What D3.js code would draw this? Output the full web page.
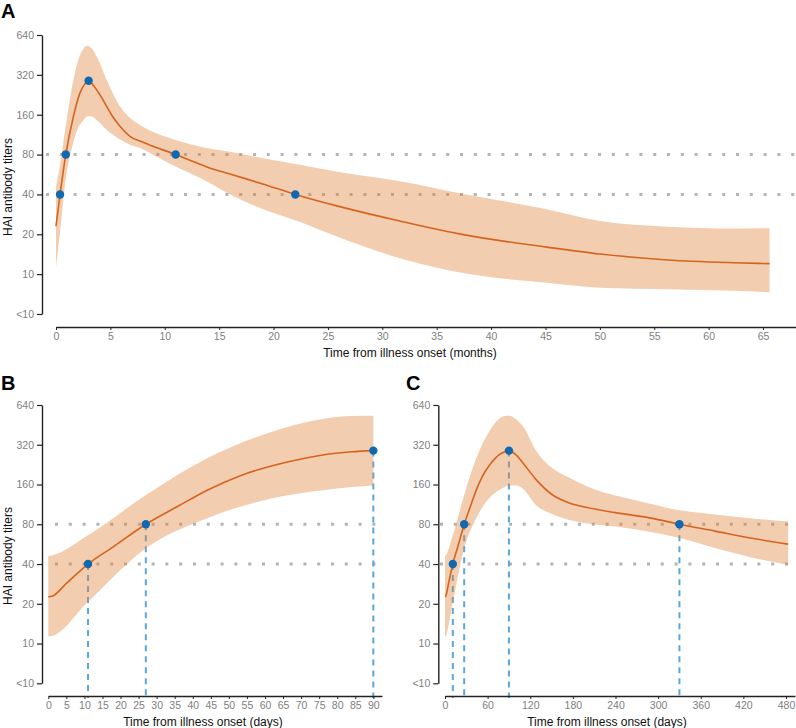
<!DOCTYPE html>
<html><head><meta charset="utf-8">
<script src="https://cdn.jsdelivr.net/npm/d3@7"></script>
<style>
body{margin:0;background:#fff;}
svg{display:block;font-family:"Liberation Sans",Arial,Helvetica,sans-serif;}
</style>
</head><body>
<svg id="chart" width="796" height="728"></svg>
<script>
// ---------- shared ----------
const yTickValues = [5, 10, 20, 40, 80, 160, 320, 640];
const yTickLabels = ["<10", "10", "20", "40", "80", "160", "320", "640"];
const refLevels = [40, 80];

// ---------- Panel A (months) ----------
const monthsA = [0, 0.37, 0.9, 1.6, 2.2, 2.7, 3.0, 3.5, 4.2, 4.66, 5.2, 5.88, 6.8, 8.0, 11, 14, 16, 19, 22, 26, 31.6, 37.7, 45.1, 50, 56.2, 62.3, 65.6];
const titerA  = [23, 40, 80, 155, 233, 277, 289, 262, 215, 185, 155, 131, 110, 99, 80, 64, 57, 48, 40, 32.5, 25.2, 19.7, 16, 14.2, 12.8, 12.2, 12.0];
const bandMonthsA = [0, 0.37, 0.9, 1.45, 2.0, 2.5, 2.9, 3.3, 3.74, 4.66, 5.88, 6.8, 7.7, 9, 11, 13.5, 16, 19, 22, 26, 31.6, 37.7, 45.1, 50, 56.2, 62.3, 65.6];
const upperA = [46, 66, 133, 253, 402, 502, 530, 505, 440, 293, 185, 151, 134, 118, 103, 91, 84, 75, 68, 59, 50.4, 40, 30.9, 25.2, 22.8, 22.1, 22.2];
const lowerA = [11.3, 20.7, 52.7, 89, 126, 145, 156, 155, 146, 123, 104, 95, 90, 79, 65, 52, 40, 31, 25.5, 19, 13.2, 10.1, 8.6, 7.9, 7.7, 7.5, 7.3];
const pointMonthsA = [0.37, 0.9, 3.0, 11, 22];
const pointTiterA  = [40, 80, 289, 80, 40];
const xTicksA = [0, 5, 10, 15, 20, 25, 30, 35, 40, 45, 50, 55, 60, 65];

// ---------- Panels B and C (days) ----------
const days      = [0, 1, 5, 11, 18, 27, 36, 44, 53, 62, 70, 76, 84, 90, 100, 110, 128, 150, 175, 200, 240, 290, 330, 380, 430, 483];
const titerDays = [22.6, 22.8, 28.5, 40, 54, 80, 110, 145, 186, 222, 250, 268, 283, 289, 268, 232, 175, 135, 116, 107, 98, 89, 80, 71, 63, 56.6];
const bandDays  = [0, 1, 11, 27, 44, 62, 76, 84, 90, 100, 110, 128, 150, 175, 200, 218, 240, 290, 330, 380, 430, 483];
const upperDays = [46, 46.5, 66, 133, 253, 402, 502, 528, 531, 500, 440, 290, 215, 180, 155, 142, 132, 114, 102, 95, 89, 84];
const lowerDays = [11.3, 11.4, 20.7, 52.7, 89, 126, 145, 153, 157, 157, 148, 112, 96, 86, 81, 79, 77, 70, 63, 53, 45, 39.4];
const pointDaysB  = [11, 27, 90];
const pointTiterB = [40, 80, 289];
const pointDaysC  = [11, 27, 90, 330];
const pointTiterC = [40, 80, 289, 80];
const xTicksB = [0, 5, 10, 15, 20, 25, 30, 35, 40, 45, 50, 55, 60, 65, 70, 75, 80, 85, 90];
const xTicksC = [0, 60, 120, 180, 240, 300, 360, 420, 480];

// ---------- styles ----------
const C_LINE = "#d4651f", C_BAND = "rgb(225,130,55)", BAND_OP = 0.4;
const C_PT = "#1069b0", C_VDASH = "#5aa7dc", C_HDOT = "#b4b4b4";
const C_TICK = "#808080", C_AXIS = "#222";

const svg = d3.select("#chart");

function panel(cfg) {
  const x = d3.scaleLinear().domain(cfg.xDomain).range(cfg.xRange);
  const y = d3.scaleLog().base(2).domain([5, 640]).range([cfg.yBottom, cfg.yTop]);
  const g = svg.append("g");

  // horizontal dotted reference lines
  g.selectAll(".hdot").data(refLevels).join("line")
    .attr("x1", cfg.dotX[0]).attr("x2", cfg.dotX[1])
    .attr("y1", d => y(d)).attr("y2", d => y(d))
    .attr("stroke", C_HDOT).attr("stroke-width", 3)
    .attr("stroke-dasharray", "3 10.8");

  // vertical dashed lines
  if (cfg.vlines) {
    g.selectAll(".vd").data(cfg.px.map((d, i) => [d, cfg.py[i]])).join("line")
      .attr("x1", d => x(d[0])).attr("x2", d => x(d[0]))
      .attr("y1", d => y(d[1])).attr("y2", cfg.xAxisY + 2)
      .attr("stroke", C_VDASH).attr("stroke-width", 2)
      .attr("stroke-dasharray", "6 5");
  }

  // band
  const band = cfg.bx.map((d, i) => ({x: d, lo: cfg.lo[i], hi: cfg.hi[i]})).filter(d => d.x <= cfg.xMax);
  g.append("path").datum(band)
    .attr("d", d3.area().x(d => x(d.x)).y0(d => y(d.lo)).y1(d => y(d.hi)).curve(d3.curveMonotoneX))
    .attr("fill", C_BAND).attr("fill-opacity", BAND_OP);

  // line
  const ln = cfg.lx.map((d, i) => ({x: d, v: cfg.lv[i]})).filter(d => d.x <= cfg.xMax);
  g.append("path").datum(ln)
    .attr("d", d3.line().x(d => x(d.x)).y(d => y(d.v)).curve(d3.curveMonotoneX))
    .attr("fill", "none").attr("stroke", C_LINE).attr("stroke-width", 1.6);

  // points
  g.selectAll(".pt").data(cfg.px.map((d, i) => [d, cfg.py[i]])).join("circle")
    .attr("cx", d => x(d[0])).attr("cy", d => y(d[1])).attr("r", 4.2)
    .attr("fill", C_PT);

  // y axis
  const ya = g.append("g").attr("transform", `translate(${cfg.yAxisX},0)`)
    .call(d3.axisLeft(y).tickValues(yTickValues).tickFormat((d, i) => yTickLabels[i]).tickSize(5).tickSizeOuter(0).tickPadding(3));
  ya.select(".domain").attr("stroke", C_AXIS).attr("stroke-width", 1.4);
  ya.selectAll(".tick line").attr("stroke", C_AXIS).attr("stroke-width", 1.2);
  ya.selectAll(".tick text").attr("fill", C_TICK).style("font-size", "10.5px").style("font-family", "Liberation Sans, Arial, sans-serif");

  // x axis
  const xa = g.append("g").attr("transform", `translate(0,${cfg.xAxisY})`)
    .call(d3.axisBottom(x).tickValues(cfg.xTicks).tickSize(3).tickSizeOuter(0).tickPadding(3));
  xa.select(".domain").attr("stroke", C_AXIS).attr("stroke-width", 1.4);
  xa.selectAll(".tick line").attr("stroke", C_AXIS).attr("stroke-width", 1);
  xa.selectAll(".tick text").attr("fill", C_TICK).style("font-size", "10.5px").style("font-family", "Liberation Sans, Arial, sans-serif");

  // titles
  g.append("text").attr("x", cfg.xTitleX).attr("y", cfg.xTitleY).attr("text-anchor", "middle")
    .style("font-size", "12px").attr("fill", "#111").text(cfg.xTitle);
  if (cfg.yTitle) {
    g.append("text").attr("transform", `translate(12,${cfg.yTitleY}) rotate(-90)`).attr("text-anchor", "middle")
      .style("font-size", "12px").attr("fill", "#111").text(cfg.yTitle);
  }
  g.append("text").attr("x", cfg.letterX).attr("y", cfg.letterY)
    .style("font-size", "20px").style("font-weight", "bold").attr("fill", "#000").text(cfg.letter);
}

panel({
  letter: "A", letterX: 1, letterY: 17.5,
  xDomain: [0, 68.03], xRange: [56, 796], xMax: 100, xTicks: xTicksA,
  yTop: 35, yBottom: 314, yAxisX: 42, xAxisY: 327,
  dotX: [46, 796],
  bx: bandMonthsA, lo: lowerA, hi: upperA, lx: monthsA, lv: titerA,
  px: pointMonthsA, py: pointTiterA, vlines: false,
  xTitle: "Time from illness onset (months)", xTitleX: 410, xTitleY: 356.5,
  yTitle: "HAI antibody titers", yTitleY: 187
});

panel({
  letter: "B", letterX: 1, letterY: 389.5,
  xDomain: [0, 92.4], xRange: [48.3, 382], xMax: 90, xTicks: xTicksB,
  yTop: 405, yBottom: 683.3, yAxisX: 42, xAxisY: 696,
  dotX: [55, 376],
  bx: bandDays, lo: lowerDays, hi: upperDays, lx: days, lv: titerDays,
  px: pointDaysB, py: pointTiterB, vlines: true,
  xTitle: "Time from illness onset (days)", xTitleX: 203, xTitleY: 725.5,
  yTitle: "HAI antibody titers", yTitleY: 556
});

panel({
  letter: "C", letterX: 406, letterY: 389.5,
  xDomain: [0, 492.7], xRange: [445, 795], xMax: 1000, xTicks: xTicksC,
  yTop: 405, yBottom: 683.3, yAxisX: 438.3, xAxisY: 696,
  dotX: [440, 796],
  bx: bandDays, lo: lowerDays, hi: upperDays, lx: days, lv: titerDays,
  px: pointDaysC, py: pointTiterC, vlines: true,
  xTitle: "Time from illness onset (days)", xTitleX: 607, xTitleY: 725.5,
  yTitle: null
});
</script>
</body></html>
